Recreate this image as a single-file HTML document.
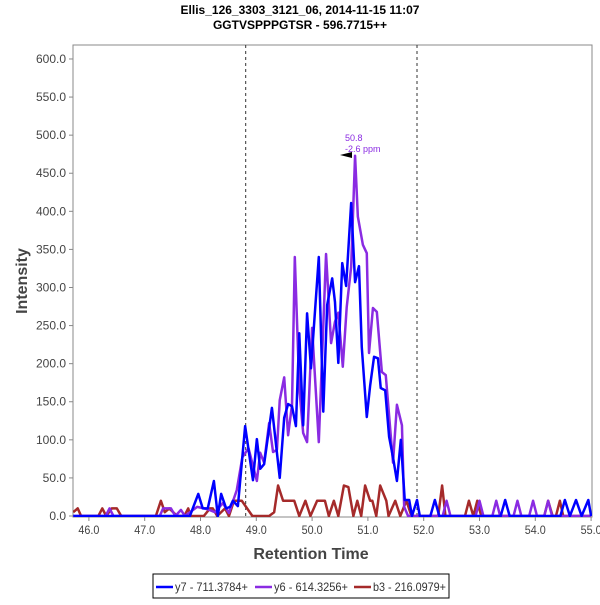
<!DOCTYPE html>
<html><head><meta charset="utf-8"><style>
body{margin:0;background:#fff;font-family:"Liberation Sans",sans-serif;}
svg text{font-family:"Liberation Sans",sans-serif;}
</style></head><body>
<svg id="chart" width="600" height="600" xmlns="http://www.w3.org/2000/svg">
<rect width="600" height="600" fill="#fff"/>
<text x="300" y="14" text-anchor="middle" font-size="12" font-weight="bold">Ellis_126_3303_3121_06, 2014-11-15 11:07</text>
<text x="300" y="29" text-anchor="middle" font-size="12" font-weight="bold">GGTVSPPPGTSR - 596.7715++</text>
<defs><clipPath id="pc"><rect x="73" y="45" width="519" height="472"/></clipPath></defs>
<rect x="73" y="45" width="519" height="472" fill="none" stroke="#888" stroke-width="1"/>
<g id="yaxis"></g>
<g id="xaxis"></g>
<g id="marks" clip-path="url(#pc)"></g>
<text x="345" y="141" font-size="9" fill="#8a2be2">50.8</text>
<text x="345" y="152" font-size="9" fill="#8a2be2">-2.6 ppm</text>
<polygon points="340,155 352,152 352,158" fill="#000"/>
<text x="311" y="559" text-anchor="middle" font-size="16" font-weight="bold" fill="#444">Retention Time</text>
<text x="0" y="0" transform="translate(27,281) rotate(-90)" text-anchor="middle" font-size="16" font-weight="bold" fill="#444">Intensity</text>
<g>
<rect x="153" y="574" width="296" height="24" fill="#fff" stroke="#000" stroke-width="1"/>
<g><line x1="156" y1="587" x2="173" y2="587" stroke="#0000ff" stroke-width="2.5"/><text x="175" y="591" font-size="12" fill="#333" textLength="73" lengthAdjust="spacingAndGlyphs">y7 - 711.3784+</text></g>
<g><line x1="255" y1="587" x2="272" y2="587" stroke="#8a2be2" stroke-width="2.5"/><text x="274" y="591" font-size="12" fill="#333" textLength="74" lengthAdjust="spacingAndGlyphs">y6 - 614.3256+</text></g>
<g><line x1="354" y1="587" x2="371" y2="587" stroke="#a52a2a" stroke-width="2.5"/><text x="373" y="591" font-size="12" fill="#333" textLength="73" lengthAdjust="spacingAndGlyphs">b3 - 216.0979+</text></g>
</g>
</svg>
<script>
const yTicks=[0,50,100,150,200,250,300,350,400,450,500,550,600];
const xTicks=[46,47,48,49,50,51,52,53,54,55];
const boundaries=[48.81,51.88];
const y7Times=[45.72,47.81,47.96,48.04,48.13,48.24,48.31,48.37,48.46,48.53,48.58,48.67,48.80,48.94,49.01,49.07,49.14,49.28,49.42,49.50,49.57,49.64,49.71,49.77,49.84,49.91,49.98,50.12,50.20,50.27,50.36,50.41,50.47,50.54,50.61,50.70,50.77,50.84,50.89,50.98,51.04,51.11,51.18,51.23,51.31,51.38,51.45,51.52,51.59,51.66,51.74,51.79,51.88,51.93,52.12,52.20,52.28,53.38,53.46,53.54,54.45,54.53,54.62,54.73,54.83,54.95,55.0];
const y7Values=[0,0,29,10,10,46,0,29,10,12,20,13,118,47,101,62,68,142,50,129,147,144,118,240,119,266,194,340,137,277,312,281,201,332,302,411,307,328,222,130,171,209,207,168,165,104,77,46,100,21,21,0,21,0,0,21,0,0,21,0,0,21,0,21,0,21,0];
const y6Times=[45.72,46.30,46.37,46.44,47.27,47.33,47.47,47.55,47.65,47.72,47.94,48.12,48.26,48.40,48.51,48.65,48.75,48.86,49.01,49.07,49.14,49.23,49.30,49.37,49.42,49.50,49.57,49.64,49.69,49.77,49.84,49.91,50.00,50.12,50.25,50.34,50.41,50.47,50.55,50.62,50.70,50.77,50.82,50.91,50.98,51.02,51.09,51.16,51.25,51.32,51.45,51.52,51.61,51.65,51.72,52.34,52.41,52.48,52.93,53.0,53.07,53.23,53.30,53.37,53.61,53.68,53.75,53.89,53.96,54.03,54.16,54.23,54.30,55.0];
const y6Values=[0,0,10,0,0,10,10,0,8,0,12,9,5,17,4,34,77,89,46,83,70,122,84,87,152,182,106,146,340,169,109,97,247,97,344,227,255,267,196,274,327,473,393,356,345,214,273,268,189,185,70,146,119,12,0,0,20,0,0,20,0,0,20,0,0,20,0,0,20,0,0,20,0,0];
const b3Times=[45.72,45.80,45.86,46.17,46.24,46.31,46.41,46.50,46.58,47.20,47.29,47.36,47.44,47.51,47.58,47.71,47.78,47.82,48.06,48.17,48.22,48.30,48.44,48.51,48.60,48.74,48.93,49.23,49.32,49.39,49.48,49.68,49.77,49.88,49.97,50.09,50.23,50.30,50.39,50.47,50.57,50.65,50.74,50.81,50.88,50.95,51.04,51.08,51.15,51.22,51.33,51.37,51.49,51.58,51.69,51.78,52.26,52.33,52.39,52.74,52.81,52.89,52.96,53.03,54.16,54.23,54.31,54.37,54.44,54.50,55.0];
const b3Values=[5,10,0,0,10,0,10,10,0,0,20,5,10,5,0,0,10,0,0,10,10,0,10,0,20,20,0,0,5,40,20,20,0,20,0,20,20,0,20,0,40,38,0,20,0,40,20,20,0,40,20,0,20,0,20,0,0,40,0,0,20,0,20,0,0,20,0,0,20,0,0];

const NS='http://www.w3.org/2000/svg';
const xs=t=>88.9+(t-46)*55.8;
const ys=v=>516-v*0.7617;
const yg=document.getElementById('yaxis'),xg=document.getElementById('xaxis'),mg=document.getElementById('marks');
function mk(tag,attrs,parent){const e=document.createElementNS(NS,tag);for(const k in attrs)e.setAttribute(k,attrs[k]);parent.appendChild(e);return e;}
yTicks.forEach(v=>{
  const l=mk('line',{x1:69,x2:73,y1:ys(v),y2:ys(v),stroke:'#888'},yg);
  
  
  const t=mk('text',{x:66,y:ys(v)+4,'text-anchor':'end','font-size':12,fill:'#444'},yg);
  t.textContent=v.toFixed(1);
  
  
});
xTicks.forEach(v=>{
  const l=mk('line',{x1:xs(v),x2:xs(v),y1:517,y2:521,stroke:'#888'},xg);
  
  
  const t=mk('text',{x:xs(v),y:534,'text-anchor':'middle','font-size':12,fill:'#444',textLength:21,lengthAdjust:'spacingAndGlyphs'},xg);
  t.textContent=v.toFixed(1);
  
  
});
boundaries.forEach(b=>{
  const l=mk('line',{x1:xs(b),x2:xs(b),y1:45,y2:517,stroke:'#333','stroke-dasharray':'3,3','stroke-width':1},mg);
  
  
});
function series(ts,vs,color,name){
  const p=mk('polyline',{points:ts.map((t,i)=>xs(t)+','+ys(vs[i])).join(' '),fill:'none',stroke:color,'stroke-width':2.5,'stroke-linejoin':'round'},mg);
  
  
}
series(b3Times,b3Values,'#a52a2a','series-b3');
series(y6Times,y6Values,'#8a2be2','series-y6');
series(y7Times,y7Values,'#0000ff','series-y7');
</script>
</body></html>
